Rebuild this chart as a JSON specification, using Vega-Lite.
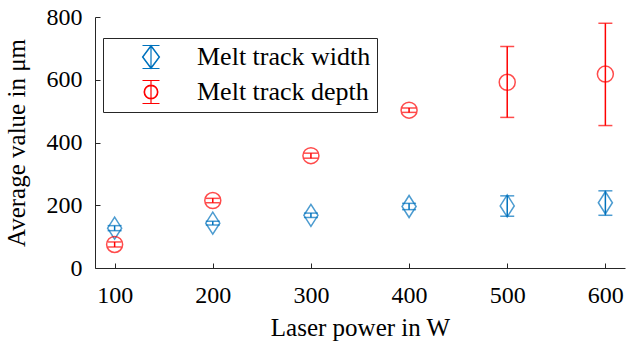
{
  "$schema": "https://vega.github.io/schema/vega-lite/v6.json",
  "width": 530,
  "height": 251,
  "autosize": {"type": "none"},
  "padding": {"left": 95, "top": 17, "right": 2, "bottom": 74},
  "background": "white",
  "config": {
    "font": "Times New Roman",
    "view": {"stroke": null},
    "axis": {
      "domainColor": "#262626",
      "tickColor": "#262626",
      "labelColor": "black",
      "titleColor": "black",
      "labelFont": "Times New Roman",
      "titleFont": "Times New Roman",
      "labelFontSize": 24,
      "titleFontSize": 25,
      "titleFontWeight": "normal",
      "grid": false,
      "tickSize": -5,
      "domainWidth": 1,
      "tickWidth": 1
    }
  },
  "data": {
    "values": [
      {"power": 100, "value": 127, "lo": 119, "hi": 135, "series": "Melt track width"},
      {"power": 200, "value": 143, "lo": 137, "hi": 149, "series": "Melt track width"},
      {"power": 300, "value": 168, "lo": 161, "hi": 175, "series": "Melt track width"},
      {"power": 400, "value": 196, "lo": 186, "hi": 206, "series": "Melt track width"},
      {"power": 500, "value": 198, "lo": 165, "hi": 230, "series": "Melt track width"},
      {"power": 600, "value": 208, "lo": 168, "hi": 246, "series": "Melt track width"},
      {"power": 100, "value": 75, "lo": 67, "hi": 83, "series": "Melt track depth"},
      {"power": 200, "value": 215, "lo": 208, "hi": 222, "series": "Melt track depth"},
      {"power": 300, "value": 358, "lo": 350, "hi": 366, "series": "Melt track depth"},
      {"power": 400, "value": 503, "lo": 496, "hi": 510, "series": "Melt track depth"},
      {"power": 500, "value": 592, "lo": 480, "hi": 706, "series": "Melt track depth"},
      {"power": 600, "value": 618, "lo": 454, "hi": 780, "series": "Melt track depth"}
    ]
  },
  "encoding": {
    "x": {
      "field": "power",
      "type": "quantitative",
      "scale": {"domain": [80, 620], "nice": false, "zero": false},
      "axis": {"values": [100, 200, 300, 400, 500, 600], "title": "Laser power in W", "labelPadding": 20, "titlePadding": 8}
    },
    "y": {
      "field": "value",
      "type": "quantitative",
      "scale": {"domain": [0, 800], "nice": false},
      "axis": {"values": [0, 200, 400, 600, 800], "title": "Average value in μm", "labelPadding": 18, "titlePadding": 17}
    }
  },
  "layer": [
    {
      "transform": [{"filter": "datum.power < 0"}],
      "mark": {"type": "point", "filled": false, "strokeWidth": 1.2, "fill": "transparent", "opacity": 1},
      "encoding": {
        "stroke": {
          "field": "series",
          "type": "nominal",
          "scale": {"domain": ["Melt track width", "Melt track depth"], "range": ["#0072BD", "#FF0000"]},
          "legend": {
            "title": null,
            "orient": "none",
            "legendX": 8,
            "legendY": 21,
            "strokeColor": "#262626",
            "fillColor": "white",
            "padding": 6,
            "labelFont": "Times New Roman",
            "labelFontSize": 26,
            "labelColor": "black",
            "labelLimit": 400,
            "symbolSize": 529,
            "symbolStrokeWidth": 1.2,
            "symbolFillColor": "transparent",
            "symbolOpacity": 1,
            "symbolOffset": 29,
            "labelOffset": 33,
            "rowPadding": 7,
            "cornerRadius": 0
          }
        },
        "shape": {
          "field": "series",
          "type": "nominal",
          "scale": {
            "domain": ["Melt track width", "Melt track depth"],
            "range": [
              "M0,-1L0.74,0L0,1L-0.74,0Z M0,-0.95L-0.7,0L0,0.95L0.7,0Z M-0.74,-1L0.74,-1 M0,-1L0,1 M-0.74,1L0.74,1",
              "M0.6,0A0.6,0.6 0 1,1 -0.6,0A0.6,0.6 0 1,1 0.6,0Z M0.56,0A0.56,0.56 0 1,0 -0.56,0A0.56,0.56 0 1,0 0.56,0Z M-0.74,-1L0.74,-1 M0,-1L0,1 M-0.74,1L0.74,1"
            ]
          },
          "legend": {"title": null}
        }
      }
    },
    {
      "encoding": {
        "color": {
          "field": "series",
          "type": "nominal",
          "scale": {"domain": ["Melt track width", "Melt track depth"], "range": ["#0072BD", "#FF0000"]},
          "legend": null
        }
      },
      "layer": [
        {
          "mark": {"type": "rule", "strokeWidth": 1.5},
          "encoding": {
            "y": {"field": "lo", "type": "quantitative"},
            "y2": {"field": "hi"}
          }
        },
        {
          "mark": {"type": "tick", "orient": "horizontal", "size": 14, "thickness": 1.5},
          "encoding": {"y": {"field": "lo", "type": "quantitative"}}
        },
        {
          "mark": {"type": "tick", "orient": "horizontal", "size": 14, "thickness": 1.5},
          "encoding": {"y": {"field": "hi", "type": "quantitative"}}
        },
        {
          "transform": [{"filter": "datum.series == 'Melt track width'"}],
          "mark": {"type": "point", "filled": false, "strokeWidth": 1.5, "size": 484, "shape": "M0,-1L0.64,0L0,1L-0.64,0Z"}
        },
        {
          "transform": [{"filter": "datum.series == 'Melt track depth'"}],
          "mark": {"type": "point", "filled": false, "strokeWidth": 1.5, "size": 256, "shape": "circle"}
        }
      ]
    }
  ]
}
